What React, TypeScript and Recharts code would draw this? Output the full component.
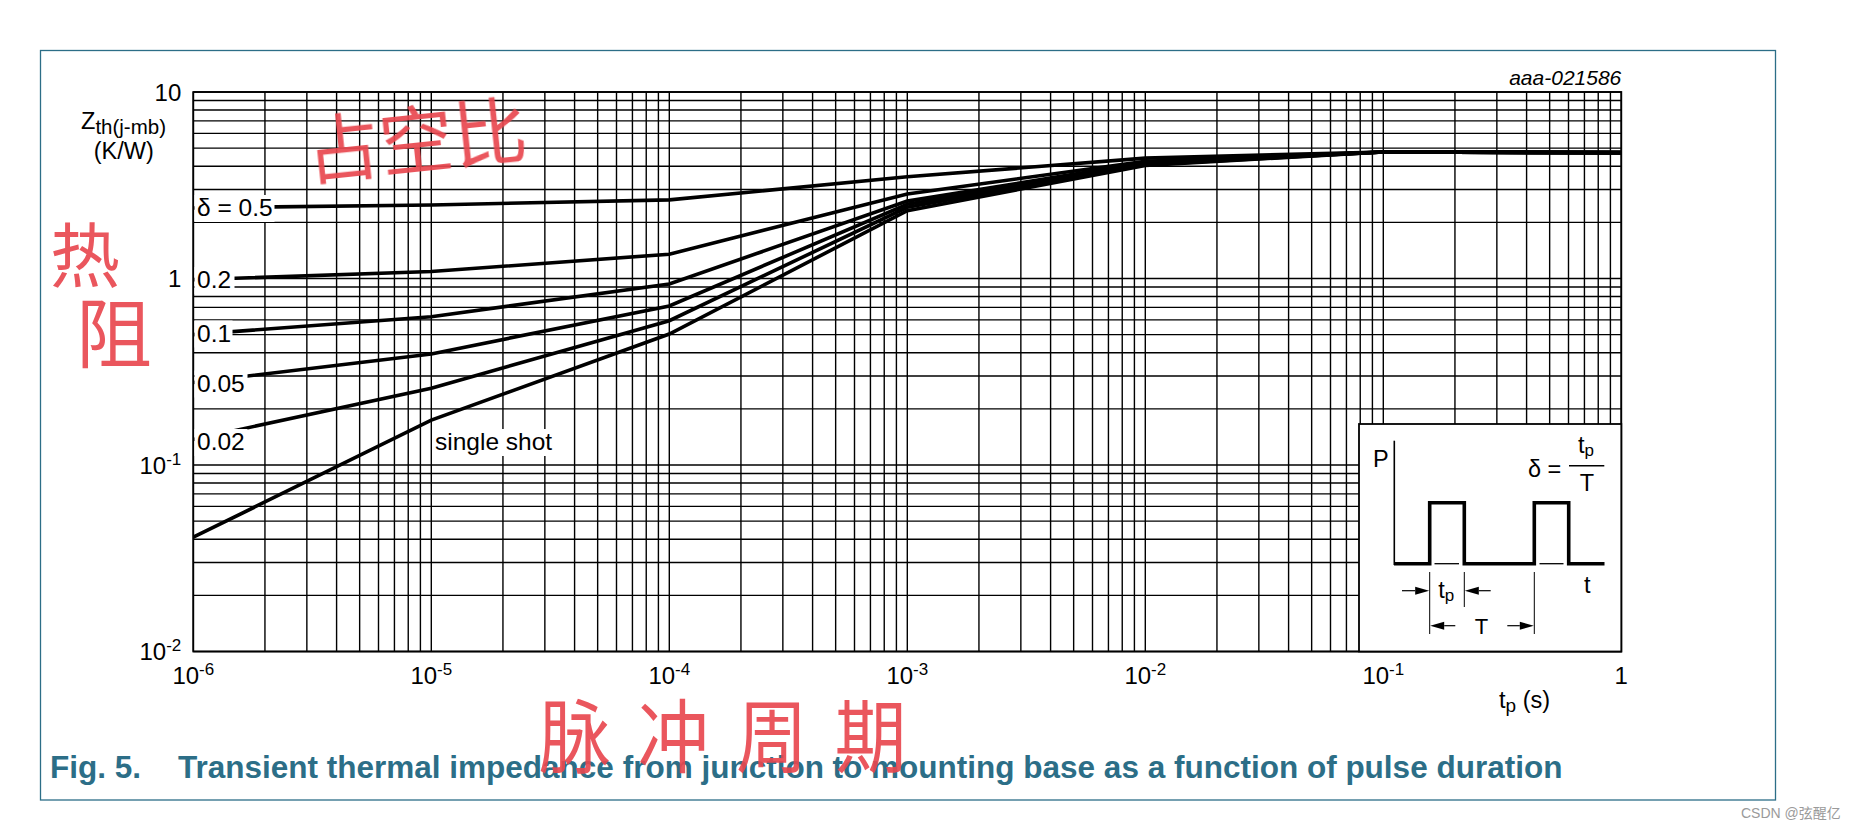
import React from 'react';
import { LineChart, Line, XAxis, YAxis, CartesianGrid } from 'recharts';

// pulse duration tp (s)
const pulseTimes = [1e-6, 1e-5, 1e-4, 1e-3, 1e-2, 1e-1, 1];
// Zth(j-mb) in K/W per duty cycle
const zthDelta05 = [2.39, 2.48, 2.64, 3.51, 4.42, 4.77, 4.73];
const zthDelta02 = [0.985, 1.09, 1.35, 2.84, 4.25, 4.77, 4.73];
const zthDelta01 = [0.5, 0.624, 0.935, 2.6, 4.18, 4.77, 4.73];
const zthDelta005 = [0.277, 0.394, 0.713, 2.5, 4.12, 4.77, 4.73];
const zthDelta002 = [0.137, 0.258, 0.594, 2.41, 4.08, 4.77, 4.73];
const zthSingleShot = [0.041, 0.174, 0.504, 2.31, 4.04, 4.77, 4.73];

const seriesKeys = ['d05', 'd02', 'd01', 'd005', 'd002', 'single'];
const seriesValues = [zthDelta05, zthDelta02, zthDelta01, zthDelta005, zthDelta002, zthSingleShot];

// log grid
const xDecades = [1e-6, 1e-5, 1e-4, 1e-3, 1e-2, 1e-1];
const yDecades = [0.01, 0.1, 1];
const gridMantissas = [1, 2, 3, 4, 5, 6, 7, 8, 9];
const xTicks = [...xDecades.flatMap((d) => gridMantissas.map((m) => m * d)), 1];
const yTicks = [...yDecades.flatMap((d) => gridMantissas.map((m) => m * d)), 10];

const data = pulseTimes.map((t, i) => {
  const row: any = { t };
  seriesKeys.forEach((k, j) => {
    row[k] = seriesValues[j][i];
  });
  return row;
});

const FONT = '"Liberation Sans", Arial, Helvetica, sans-serif';
const TEAL = '#2c6e87';
const RED = '#e9474f';

// plot geometry
const W = 1856;
const H = 834;
const PL = 193.3;
const PR = 1621.3;
const PT = 92;
const PB = 651.5;
const YAXIS_W = 60;
const XAXIS_H = 40;

const TICK_FS = 24;
const SUP_FS = 17;
const BASE_W = 2 * 0.556 * TICK_FS; // "10"
const supWidth = (s: string) => (s.startsWith('-') ? 0.333 + 0.556 * (s.length - 1) : 0.556 * s.length) * SUP_FS;

const isDecade = (v: number) => {
  const e = Math.log10(v);
  return Math.abs(e - Math.round(e)) < 1e-6;
};

const XTick = (props: any) => {
  const { x, y, payload } = props;
  const v = payload.value;
  if (!isDecade(v)) return <g />;
  const exp = Math.round(Math.log10(v));
  const ty = y + 32;
  if (exp === 0) {
    return (
      <text x={x} y={ty} textAnchor="middle" fontFamily={FONT} fontSize={TICK_FS} fill="#000">1</text>
    );
  }
  const sup = String(exp);
  const total = BASE_W + supWidth(sup);
  const x0 = x - total / 2;
  return (
    <g>
      <text x={x0} y={ty} fontFamily={FONT} fontSize={TICK_FS} fill="#000">10</text>
      <text x={x0 + BASE_W} y={ty - 9} fontFamily={FONT} fontSize={SUP_FS} fill="#000">{sup}</text>
    </g>
  );
};

const YTick = (props: any) => {
  const { x, y, payload } = props;
  const v = payload.value;
  if (!isDecade(v)) return <g />;
  const exp = Math.round(Math.log10(v));
  const tx = x - 12;
  const ty = y + 8.5;
  if (exp >= 0) {
    return (
      <text x={tx} y={ty} textAnchor="end" fontFamily={FONT} fontSize={TICK_FS} fill="#000">
        {exp === 0 ? '1' : '10'}
      </text>
    );
  }
  const sup = String(exp);
  return (
    <g>
      <text x={tx - supWidth(sup)} y={ty} textAnchor="end" fontFamily={FONT} fontSize={TICK_FS} fill="#000">10</text>
      <text x={tx} y={ty - 9} textAnchor="end" fontFamily={FONT} fontSize={SUP_FS} fill="#000">{sup}</text>
    </g>
  );
};

const curveLabels = [
  { text: 'δ = 0.5', x: 197, y: 216, w: 80 },
  { text: '0.2', x: 197, y: 288, w: 40 },
  { text: '0.1', x: 197, y: 341.5, w: 38 },
  { text: '0.05', x: 197, y: 391.5, w: 53 },
  { text: '0.02', x: 197, y: 450, w: 53 },
  { text: 'single shot', x: 435, y: 450, w: 124 },
];

const Arrow = ({ x1, x2, y }: { x1: number; x2: number; y: number }) => {
  const dir = x2 > x1 ? 1 : -1;
  const head = 14;
  return (
    <g>
      <line x1={x1} y1={y} x2={x2 - dir * head} y2={y} stroke="#000" strokeWidth={1.2} />
      <polygon points={`${x2},${y} ${x2 - dir * head},${y - 4} ${x2 - dir * head},${y + 4}`} fill="#000" />
    </g>
  );
};

export default function App() {
  return (
    <div style={{ position: 'absolute', left: 0, top: 0, width: W, height: H, background: '#fff' }}>
      <div style={{ position: 'absolute', left: 0, top: 0 }}>
        <LineChart
          width={W}
          height={H}
          data={data}
          margin={{ top: PT, right: W - PR, bottom: H - PB - XAXIS_H, left: PL - YAXIS_W }}
        >
          <CartesianGrid stroke="#000" strokeWidth={1.4} fill="none" />
          <XAxis
            dataKey="t"
            type="number"
            scale="log"
            domain={[1e-6, 1]}
            allowDataOverflow
            ticks={xTicks}
            interval={0}
            tick={<XTick />}
            tickLine={false}
            tickSize={0}
            tickMargin={0}
            axisLine={false}
            height={XAXIS_H}
          />
          <YAxis
            type="number"
            scale="log"
            domain={[0.01, 10]}
            allowDataOverflow
            ticks={yTicks}
            interval={0}
            tick={<YTick />}
            tickLine={false}
            tickSize={0}
            tickMargin={0}
            axisLine={false}
            width={YAXIS_W}
          />
          {seriesKeys.map((k) => (
            <Line
              key={k}
              dataKey={k}
              type="linear"
              stroke="#000"
              strokeWidth={3.6}
              dot={false}
              activeDot={false}
              isAnimationActive={false}
            />
          ))}
        </LineChart>
      </div>
      <svg
        width={W}
        height={H}
        style={{ position: 'absolute', left: 0, top: 0, pointerEvents: 'none' }}
        fontFamily={FONT}
      >
        {/* outer frame */}
        <rect x={40.5} y={50.5} width={1735} height={749.5} fill="none" stroke={TEAL} strokeWidth={1.3} />
        {/* plot border */}
        <rect x={PL} y={PT} width={PR - PL} height={PB - PT} fill="none" stroke="#000" strokeWidth={1.8} />

        {/* curve labels */}
        {curveLabels.map((l) => (
          <g key={l.text}>
            <rect x={l.x - 2.5} y={l.y - 21} width={l.w} height={27} fill="#fff" />
            <text x={l.x} y={l.y} fontSize={24.5} fill="#000">
              {l.text}
            </text>
          </g>
        ))}

        {/* axis titles */}
        <text x={123.5} y={129.3} textAnchor="middle" fontSize={23.5} fill="#000">
          Z<tspan fontSize={20.5} dy={5}>th(j-mb)</tspan>
        </text>
        <text x={123.7} y={159.2} textAnchor="middle" fontSize={23.5} fill="#000">
          (K/W)
        </text>
        <text x={1499} y={708} fontSize={23.5} fill="#000">
          t<tspan fontSize={19} dy={4}>p</tspan>
          <tspan dy={-4}> (s)</tspan>
        </text>
        <text x={PR} y={85} textAnchor="end" fontSize={21} fontStyle="italic" fill="#000">
          aaa-021586
        </text>

        {/* inset pulse diagram */}
        <rect x={1359} y={424} width={PR - 1359} height={PB - 424} fill="#fff" stroke="#000" strokeWidth={1.8} />
        <text x={1373} y={467} fontSize={23.5} fill="#000">P</text>
        <line x1={1394.3} y1={440.7} x2={1394.3} y2={565} stroke="#000" strokeWidth={1.6} />
        <polyline
          points="1394,563.7 1429.7,563.7 1429.7,502.7 1464.3,502.7 1464.3,563.7 1534.3,563.7 1534.3,502.7 1568.7,502.7 1568.7,563.7 1604.5,563.7"
          fill="none"
          stroke="#000"
          strokeWidth={3.6}
          strokeLinejoin="miter"
        />
        <line x1={1434.5} y1={563.7} x2={1459} y2={563.7} stroke="#fff" strokeWidth={4.5} />
        <line x1={1434.5} y1={563.7} x2={1459} y2={563.7} stroke="#000" strokeWidth={1.3} />
        <line x1={1539.5} y1={563.7} x2={1563.5} y2={563.7} stroke="#fff" strokeWidth={4.5} />
        <line x1={1539.5} y1={563.7} x2={1563.5} y2={563.7} stroke="#000" strokeWidth={1.3} />
        <text x={1528} y={477} fontSize={23.5} fill="#000">δ =</text>
        <line x1={1569} y1={465.7} x2={1604.3} y2={465.7} stroke="#000" strokeWidth={1.6} />
        <text x={1578} y={453} fontSize={23.5} fill="#000">
          t<tspan fontSize={17} dy={3}>p</tspan>
        </text>
        <text x={1587} y={490.7} textAnchor="middle" fontSize={23.5} fill="#000">T</text>
        <text x={1584} y={593} fontSize={23.5} fill="#000">t</text>
        <line x1={1429.7} y1={572} x2={1429.7} y2={634} stroke="#000" strokeWidth={1} />
        <line x1={1464.3} y1={572} x2={1464.3} y2={607} stroke="#000" strokeWidth={1} />
        <line x1={1534.3} y1={572} x2={1534.3} y2={634} stroke="#000" strokeWidth={1} />
        <Arrow x1={1402} x2={1429.2} y={590.7} />
        <Arrow x1={1490.7} x2={1464.8} y={590.7} />
        <text x={1438.3} y={598} fontSize={23.5} fill="#000">
          t<tspan fontSize={17} dy={3}>p</tspan>
        </text>
        <Arrow x1={1455.3} x2={1430.2} y={625.7} />
        <text x={1481.5} y={633.5} textAnchor="middle" fontSize={22} fill="#000">T</text>
        <Arrow x1={1507.3} x2={1533.8} y={625.7} />

        {/* figure caption */}
        <text x={50} y={778} fontSize={31.5} fontWeight="bold" fill={TEAL}>Fig. 5.</text>
        <text x={178} y={778} fontSize={31.5} fontWeight="bold" fill={TEAL}>
          Transient thermal impedance from junction to mounting base as a function of pulse duration
        </text>

        {/* handwritten notes */}
        <g fontFamily='"Noto Sans CJK SC", sans-serif' fill={RED} opacity={0.92}>
          <text x={305} y={168} fontSize={74} transform="rotate(-6 413 138)">占空比</text>
          <text x={50} y={282} fontSize={70}>热</text>
          <text x={76} y={362} fontSize={76}>阻</text>
          <g transform="translate(539 766) scale(1.12 1.25)">
            <text x={0} y={0} fontSize={64} letterSpacing={24}>脉冲周期</text>
          </g>
        </g>

        {/* watermark */}
        <text x={1741} y={818} fontSize={14} fill="#9a9a9a" fontFamily='"Liberation Sans", "Noto Sans CJK SC", sans-serif'>
          CSDN @弦醒亿
        </text>
      </svg>
    </div>
  );
}
